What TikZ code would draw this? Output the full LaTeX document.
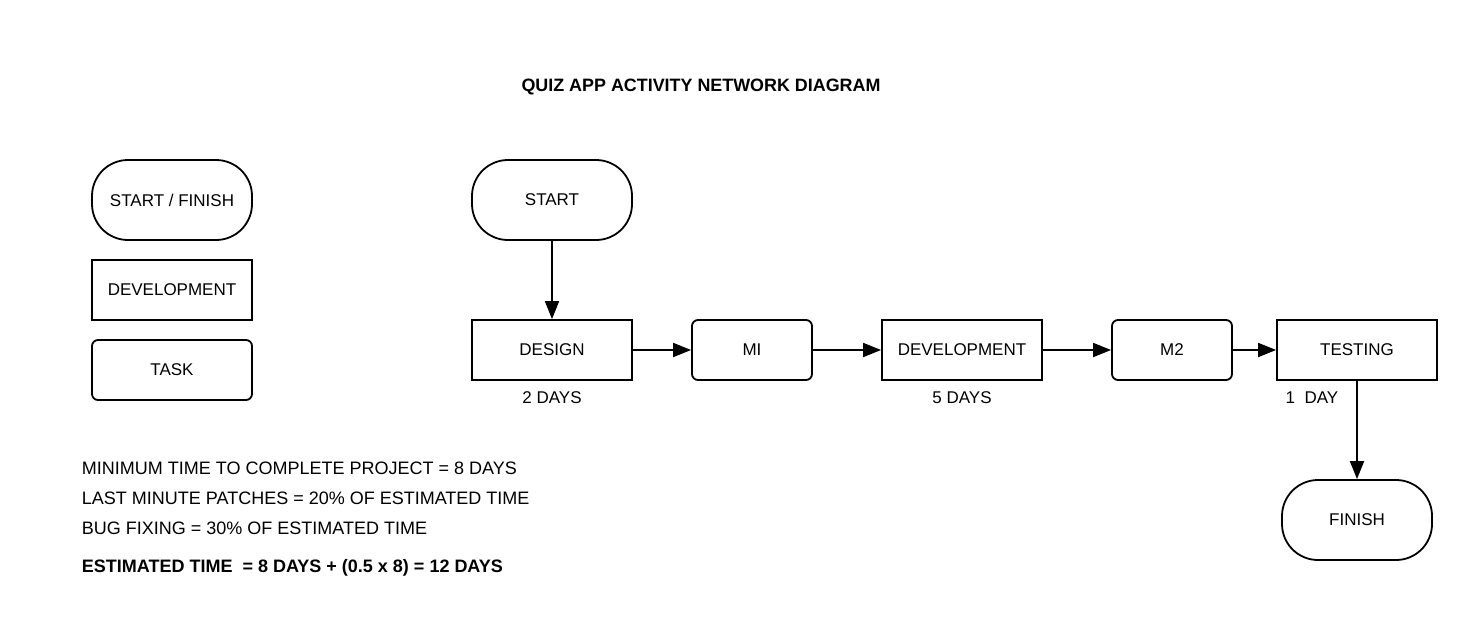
\documentclass[tikz,border=0pt]{standalone}
\usepackage{fontspec}
\setmainfont{Liberation Sans}
\usetikzlibrary{arrows.meta}
\begin{document}
\begin{tikzpicture}[x=1pt,y=-1pt,line width=1.8pt,
    font=\fontsize{17}{20}\selectfont,
    term/.style={draw,rounded corners=36pt,minimum width=160pt,minimum height=80pt,inner sep=0pt},
    dev/.style={draw,minimum width=160pt,minimum height=60pt,inner sep=0pt},
    task/.style={draw,rounded corners=6pt,minimum width=120pt,minimum height=60pt,inner sep=0pt},
    note/.style={anchor=west,inner sep=0pt,font=\fontsize{18}{20}\selectfont},
    link/.style={-{Triangle[length=18pt,width=14pt]}}]
            \useasboundingbox (0,0) rectangle (1477,640);
            \node[font=\fontsize{17.9}{20}\selectfont\bfseries] (title) at (701,87) {QUIZ APP ACTIVITY NETWORK DIAGRAM};

            % legend
            \node[term] (key1) at (172,200) {START / FINISH};
            \node[dev] (key2) at (172,290) {DEVELOPMENT};
            \node[task,minimum width=160pt] (key3) at (172,370) {TASK};

            % network
            \node[term] (start) at (552,200) {START};
            \node[dev] (design) at (552,350) {DESIGN};
            \node[task] (m1) at (752,350) {MI};
            \node[dev] (devel) at (962,350) {DEVELOPMENT};
            \node[task] (m2) at (1172,350) {M2};
            \node[dev] (testing) at (1357,350) {TESTING};
            \node[term,minimum width=150pt] (finish) at (1357,520) {FINISH};

            \draw[link] (start) -- (design);
            \draw[link] (design) -- (m1);
            \draw[link] (m1) -- (devel);
            \draw[link] (devel) -- (m2);
            \draw[link] (m2) -- (testing);
            \draw[link] (testing) -- (finish);

            \node (d1) at (552,398) {2 DAYS};
            \node (d2) at (962,398) {5 DAYS};
            \node (d3) at (1312,398) {1\ \ DAY};

            % notes
            \node[note] (n1) at (81,468) {MINIMUM TIME TO COMPLETE PROJECT = 8 DAYS};
            \node[note] (n2) at (81,498) {LAST MINUTE PATCHES = 20\% OF ESTIMATED TIME};
            \node[note] (n3) at (81,528) {BUG FIXING = 30\% OF ESTIMATED TIME};
            \node[note,font=\fontsize{18}{20}\selectfont\bfseries] (n4) at (81,568) {ESTIMATED TIME\ \ = 8 DAYS + (0.5 x 8) = 12 DAYS};
\end{tikzpicture}
\end{document}
